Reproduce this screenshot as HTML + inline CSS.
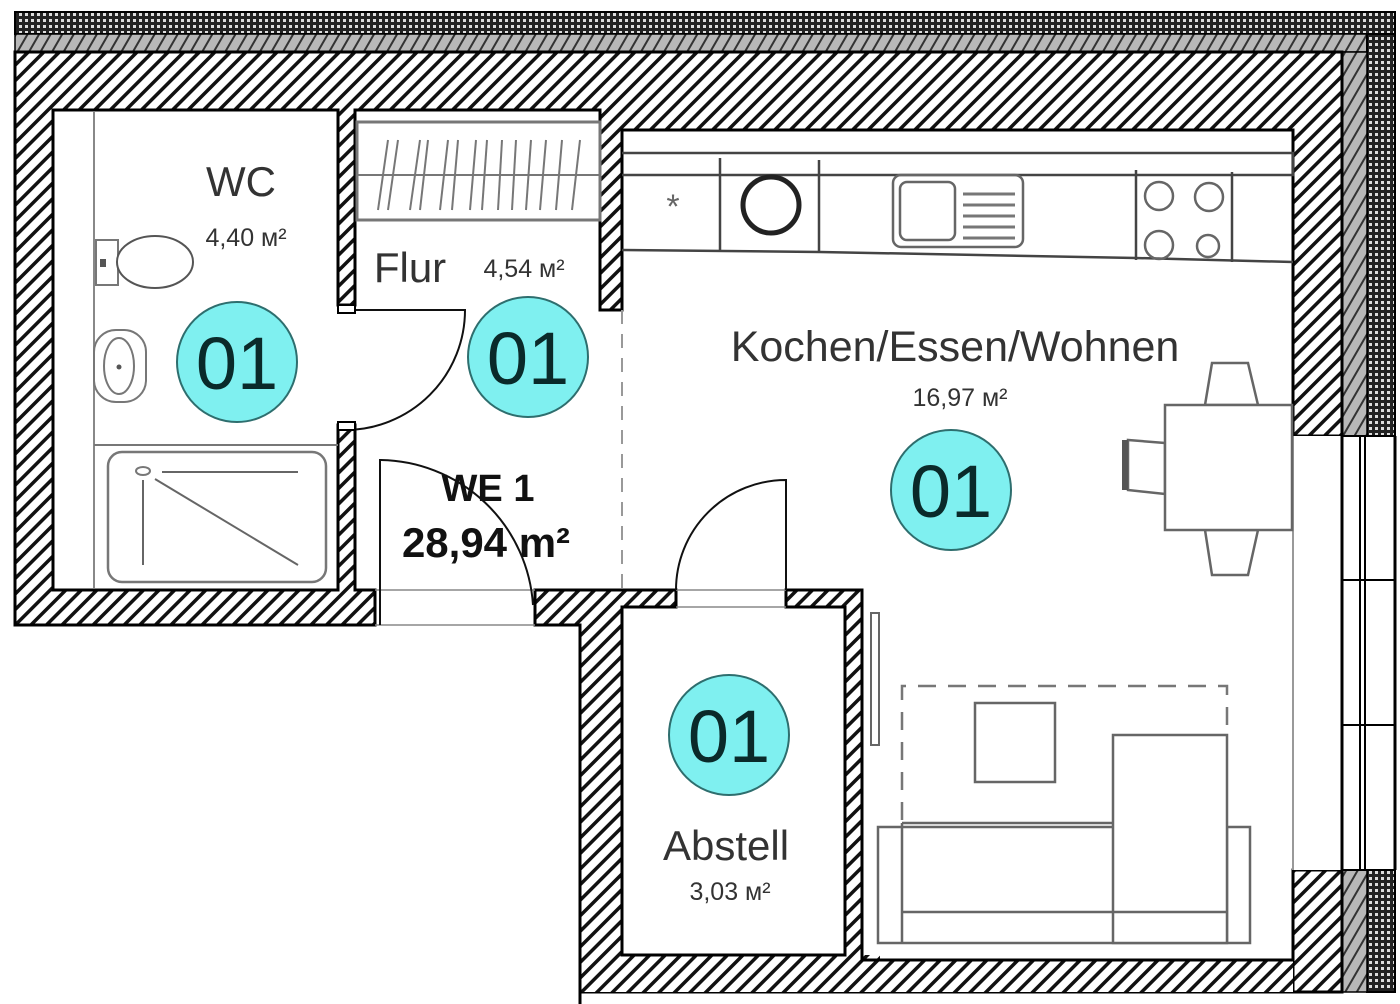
<!DOCTYPE html>
<html><head><meta charset="utf-8"><style>
html,body{margin:0;padding:0;background:#fff;}
svg{display:block;}
text{font-family:"Liberation Sans",Arial,sans-serif;}
</style></head><body>
<svg width="1400" height="1004" viewBox="0 0 1400 1004" xmlns="http://www.w3.org/2000/svg">
<defs>
<pattern id="h" patternUnits="userSpaceOnUse" width="11" height="11" patternTransform="rotate(-45)">
<rect width="11" height="11" fill="#fff"/><rect x="0" y="0" width="11" height="3.5" fill="#111"/>
</pattern>
<pattern id="c" patternUnits="userSpaceOnUse" width="6" height="6">
<rect width="6" height="6" fill="#222"/><rect x="1" y="1" width="3" height="3" fill="#ddd"/>
</pattern>
<pattern id="g" patternUnits="userSpaceOnUse" width="10" height="10" patternTransform="rotate(-60)">
<rect width="10" height="10" fill="#b8b8b8"/><rect width="10" height="2" fill="#333"/>
</pattern>
</defs>

<rect x="15" y="12" width="1380" height="22" fill="url(#c)" stroke="#000" stroke-width="2"/>
<rect x="15" y="34" width="1352" height="18" fill="url(#g)" stroke="#000" stroke-width="1.5"/>
<rect x="1367" y="34" width="28" height="402" fill="url(#c)" stroke="#000" stroke-width="2"/>
<rect x="1342" y="52" width="25" height="384" fill="url(#g)" stroke="#000" stroke-width="1.5"/>
<rect x="1367" y="870" width="28" height="122" fill="url(#c)" stroke="#000" stroke-width="2"/>
<rect x="1342" y="870" width="25" height="122" fill="url(#g)" stroke="#000" stroke-width="1.5"/>

<path fill="url(#h)" stroke="#000" stroke-width="3" fill-rule="evenodd" d="
M15 52 L1342 52 L1342 436 L1293 436 L1293 130 L622 130 L622 310 L600 310 L600 110 L355 110 L355 305 L338 305 L338 110 L53 110 L53 590 L338 590 L338 425 L355 425 L355 590 L375 590 L375 625 L15 625 Z"/>
<rect x="1293" y="870" width="49" height="122" fill="url(#h)" stroke="#000" stroke-width="3"/>
<path fill="url(#h)" stroke="#000" stroke-width="3" d="M535 590 L676 590 L676 607 L622 607 L622 955 L845 955 L845 607 L786 607 L786 590 L862 590 L862 960 L1293 960 L1293 992 L580 992 L580 625 L535 625 Z"/>
<rect x="862" y="960" width="431" height="32" fill="url(#h)"/>
<rect x="580" y="955" width="300" height="37" fill="url(#h)"/>
<path d="M580 625 L580 1004 M622 607 L622 955 L845 955 L845 607 M862 590 L862 960 L1293 960" fill="none" stroke="#000" stroke-width="3"/>

<rect x="1293" y="436" width="100" height="434" fill="#fff"/>
<line x1="1293" y1="436" x2="1293" y2="870" stroke="#999" stroke-width="2"/>
<line x1="1342" y1="436" x2="1342" y2="870" stroke="#000" stroke-width="3"/>
<line x1="1395" y1="436" x2="1395" y2="870" stroke="#000" stroke-width="3"/>
<rect x="1360" y="436" width="5" height="434" fill="none" stroke="#000" stroke-width="2"/>
<line x1="1342" y1="436" x2="1395" y2="436" stroke="#000" stroke-width="2"/>
<line x1="1342" y1="580" x2="1395" y2="580" stroke="#000" stroke-width="2"/>
<line x1="1342" y1="725" x2="1395" y2="725" stroke="#000" stroke-width="2"/>
<line x1="1342" y1="870" x2="1395" y2="870" stroke="#000" stroke-width="2"/>

<line x1="375" y1="590" x2="535" y2="590" stroke="#888" stroke-width="1.5"/>
<line x1="375" y1="625" x2="535" y2="625" stroke="#888" stroke-width="1.5"/>
<line x1="676" y1="590" x2="786" y2="590" stroke="#888" stroke-width="1.5"/>
<line x1="676" y1="607" x2="786" y2="607" stroke="#888" stroke-width="1.5"/>
<line x1="622" y1="310" x2="622" y2="590" stroke="#999" stroke-width="2" stroke-dasharray="14,10"/>

<rect x="357" y="122" width="243" height="98" fill="#fff" stroke="#777" stroke-width="3"/>
<line x1="357" y1="175" x2="600" y2="175" stroke="#777" stroke-width="2"/>
<g stroke="#777" stroke-width="2">
<line x1="378" y1="210" x2="388" y2="140"/><line x1="388" y1="210" x2="398" y2="140"/>
<line x1="410" y1="210" x2="420" y2="140"/><line x1="420" y1="210" x2="428" y2="140"/>
<line x1="440" y1="210" x2="448" y2="140"/><line x1="452" y1="210" x2="458" y2="140"/>
<line x1="470" y1="210" x2="476" y2="140"/><line x1="482" y1="210" x2="487" y2="140"/>
<line x1="498" y1="210" x2="502" y2="140"/><line x1="512" y1="210" x2="516" y2="140"/>
<line x1="526" y1="210" x2="531" y2="140"/><line x1="540" y1="210" x2="546" y2="140"/>
<line x1="556" y1="210" x2="562" y2="140"/><line x1="572" y1="210" x2="580" y2="140"/>
</g>

<line x1="94" y1="112" x2="94" y2="588" stroke="#888" stroke-width="2"/>
<line x1="94" y1="445" x2="338" y2="445" stroke="#777" stroke-width="2"/>
<rect x="96" y="240" width="22" height="45" fill="#fff" stroke="#777" stroke-width="2"/>
<rect x="100" y="259" width="6" height="8" fill="#555"/>
<ellipse cx="155" cy="262" rx="38" ry="26" fill="#fff" stroke="#555" stroke-width="2"/>
<rect x="94" y="330" width="52" height="72" rx="22" fill="#fff" stroke="#777" stroke-width="2"/>
<ellipse cx="119" cy="366" rx="15" ry="28" fill="none" stroke="#777" stroke-width="2"/>
<circle cx="119" cy="367" r="2.5" fill="#555"/>
<rect x="108" y="452" width="218" height="130" rx="14" fill="#fff" stroke="#777" stroke-width="2.5"/>
<ellipse cx="143" cy="471" rx="7" ry="4" fill="none" stroke="#777" stroke-width="2"/>
<line x1="162" y1="472" x2="298" y2="472" stroke="#666" stroke-width="2"/>
<line x1="143" y1="480" x2="143" y2="565" stroke="#666" stroke-width="2"/>
<line x1="155" y1="479" x2="298" y2="565" stroke="#666" stroke-width="2"/>

<g fill="none" stroke="#111" stroke-width="2">
<path d="M345 310 L465 310 A120 120 0 0 1 345 430"/>
<path d="M380 625 L380 460 A155 155 0 0 1 533 605"/>
<path d="M786 590 L786 480 A110 110 0 0 0 676 590"/>
</g>
<rect x="338" y="305" width="17" height="8" fill="#fff" stroke="#000" stroke-width="2"/>
<rect x="338" y="422" width="17" height="8" fill="#fff" stroke="#000" stroke-width="2"/>

<g fill="none" stroke="#444" stroke-width="2.5">
<path d="M622 153 L1293 153 L1293 175 L622 175"/>
<path d="M622 250 L820 252 L1136 258 L1293 262"/>
<line x1="720" y1="158" x2="720" y2="250"/>
<line x1="819" y1="160" x2="819" y2="252"/>
<line x1="1136" y1="170" x2="1136" y2="260"/>
<line x1="1232" y1="172" x2="1232" y2="262"/>
</g>
<text x="673" y="218" font-size="34" fill="#666" text-anchor="middle">*</text>
<ellipse cx="771" cy="205" rx="28" ry="28" fill="none" stroke="#222" stroke-width="5"/>
<rect x="893" y="175" width="130" height="72" rx="8" fill="none" stroke="#666" stroke-width="2.5"/>
<rect x="900" y="182" width="55" height="58" rx="7" fill="none" stroke="#666" stroke-width="2.5"/>
<g stroke="#777" stroke-width="3"><line x1="963" y1="194" x2="1015" y2="194"/><line x1="963" y1="205" x2="1015" y2="205"/><line x1="963" y1="216" x2="1015" y2="216"/><line x1="963" y1="227" x2="1015" y2="227"/><line x1="963" y1="238" x2="1015" y2="238"/></g>
<g fill="none" stroke="#666" stroke-width="2.5">
<circle cx="1159" cy="196" r="14"/><circle cx="1209" cy="197" r="14"/>
<circle cx="1159" cy="245" r="14"/><circle cx="1208" cy="246" r="11"/>
</g>

<g fill="#fff" stroke="#666" stroke-width="2.5">
<path d="M1205 405 L1212 363 L1248 363 L1258 405 Z"/>
<path d="M1205 530 L1212 575 L1248 575 L1258 530 Z"/>
<path d="M1165 443 L1128 440 L1128 490 L1165 494 Z"/>
<rect x="1165" y="405" width="127" height="125"/>
</g>
<rect x="1122" y="440" width="6" height="50" fill="#555"/>

<rect x="871" y="613" width="8" height="132" fill="#fff" stroke="#666" stroke-width="2"/>
<path d="M902 820 L902 686 L1227 686 L1227 735" fill="none" stroke="#777" stroke-width="2.5" stroke-dasharray="18,12"/>
<rect x="975" y="703" width="80" height="79" fill="none" stroke="#666" stroke-width="2.5"/>
<g fill="none" stroke="#666" stroke-width="2.5">
<rect x="878" y="827" width="372" height="116"/>
<line x1="902" y1="823" x2="902" y2="943"/>
<line x1="1227" y1="827" x2="1227" y2="943"/>
<line x1="902" y1="823" x2="1113" y2="823"/>
<rect x="1113" y="735" width="114" height="208" fill="#fff"/>
<line x1="902" y1="912" x2="1227" y2="912"/>
</g>

<g fill="#7ff0f0" stroke="#2e6e6e" stroke-width="2">
<circle cx="237" cy="362" r="60"/><circle cx="528" cy="357" r="60"/>
<circle cx="951" cy="490" r="60"/><circle cx="729" cy="735" r="60"/>
</g>
<g font-size="74" fill="#0a2a2a" text-anchor="middle">
<text x="237" y="389">01</text><text x="528" y="384">01</text>
<text x="951" y="517">01</text><text x="729" y="762">01</text>
</g>
<g fill="#333" text-anchor="middle">
<text x="241" y="196" font-size="42">WC</text>
<text x="246" y="246" font-size="25">4,40 м²</text>
<text x="410" y="282" font-size="42">Flur</text>
<text x="524" y="277" font-size="25">4,54 м²</text>
<text x="955" y="361" font-size="43">Kochen/Essen/Wohnen</text>
<text x="960" y="406" font-size="25">16,97 м²</text>
<text x="726" y="860" font-size="42">Abstell</text>
<text x="730" y="900" font-size="25">3,03 м²</text>
</g>
<g fill="#111" font-weight="bold" text-anchor="middle">
<text x="488" y="501" font-size="38">WE 1</text>
<text x="486" y="557" font-size="42">28,94 m²</text>
</g>
</svg>
</body></html>
